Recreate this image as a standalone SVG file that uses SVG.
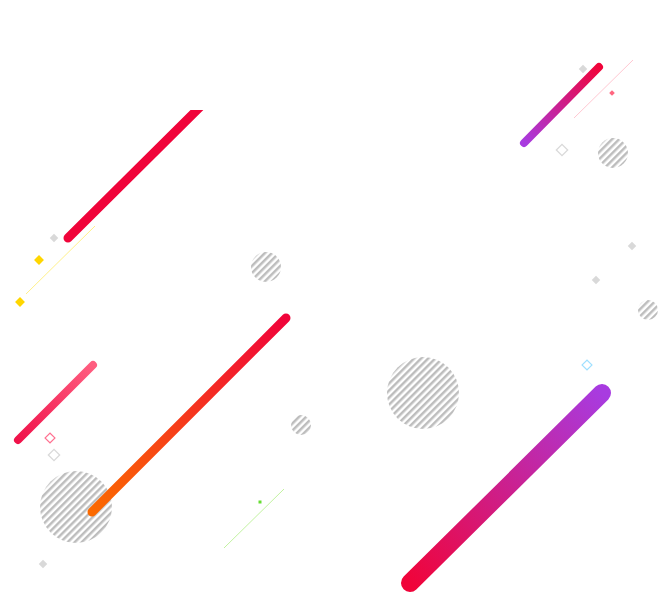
<svg xmlns="http://www.w3.org/2000/svg" width="658" height="607" viewBox="0 0 658 607">
<defs>
<pattern id="stripes" patternUnits="userSpaceOnUse" width="5" height="10" patternTransform="rotate(45)">
<rect x="0" y="0" width="2.5" height="10" fill="#bdbdbd"/>
</pattern>
<linearGradient id="gBig" gradientUnits="userSpaceOnUse" x1="410" y1="583" x2="602" y2="393">
<stop offset="0" stop-color="#f0043a"/><stop offset="1" stop-color="#a83be0"/>
</linearGradient>
<linearGradient id="gTR" gradientUnits="userSpaceOnUse" x1="524" y1="143" x2="599" y2="67">
<stop offset="0" stop-color="#a83be0"/><stop offset="1" stop-color="#f0043a"/>
</linearGradient>
<linearGradient id="gMid" gradientUnits="userSpaceOnUse" x1="92" y1="512" x2="286" y2="318">
<stop offset="0" stop-color="#fb6a00"/><stop offset="1" stop-color="#f0043a"/>
</linearGradient>
<linearGradient id="gPink" gradientUnits="userSpaceOnUse" x1="18" y1="440" x2="93" y2="365">
<stop offset="0" stop-color="#f0124a"/><stop offset="1" stop-color="#ff5e80"/>
</linearGradient>
<clipPath id="clipTop"><rect x="0" y="110" width="658" height="497"/></clipPath>
<style>
.bar{fill:none;stroke-linecap:round}
.circ{fill:url(#stripes)}
.dg{fill:#d9d9d9}
</style>
</defs>
<rect width="658" height="607" fill="#ffffff"/>
<g id="circles">
<circle class="circ" cx="266" cy="267" r="15"/>
<circle class="circ" cx="301" cy="425" r="10"/>
<circle class="circ" cx="423" cy="393" r="36"/>
<circle class="circ" cx="76" cy="507" r="36"/>
<circle class="circ" cx="648" cy="310" r="10"/>
<circle class="circ" cx="613" cy="153" r="15"/>
</g>
<g id="thin-lines">
<line x1="26" y1="294" x2="95" y2="226" stroke="#fff08a" stroke-width="1"/>
<line x1="574" y1="118" x2="633" y2="60" stroke="#ffc8d2" stroke-width="1"/>
<line x1="224" y1="548" x2="284" y2="489" stroke="#c2f2a0" stroke-width="1"/>
</g>
<g id="bars">
<line class="bar" clip-path="url(#clipTop)" x1="68" y1="238" x2="206" y2="101" stroke="#f0043a" stroke-width="9"/>
<line class="bar" x1="524" y1="143" x2="599" y2="67" stroke="url(#gTR)" stroke-width="8"/>
<line class="bar" x1="18" y1="440" x2="93" y2="365" stroke="url(#gPink)" stroke-width="8"/>
<line class="bar" x1="92" y1="512" x2="286" y2="318" stroke="url(#gMid)" stroke-width="9"/>
<line class="bar" x1="410" y1="583" x2="602" y2="393" stroke="url(#gBig)" stroke-width="18"/>
</g>
<g id="diamonds">
<rect class="dg" x="51" y="235" width="6" height="6" transform="rotate(45 54 238)"/>
<rect fill="#ffd600" x="35.5" y="256.5" width="7" height="7" transform="rotate(45 39 260)"/>
<rect fill="#ffd600" x="16.5" y="298.5" width="7" height="7" transform="rotate(45 20 302)"/>
<rect class="dg" x="580" y="66" width="6" height="6" transform="rotate(45 583 69)"/>
<rect fill="#ff6680" x="610" y="91" width="4" height="4" transform="rotate(45 612 93)"/>
<rect fill="none" stroke="#d9d9d9" stroke-width="1.3" x="558" y="146" width="8" height="8" transform="rotate(45 562 150)"/>
<rect class="dg" x="629" y="243" width="6" height="6" transform="rotate(45 632 246)"/>
<rect class="dg" x="593" y="277" width="6" height="6" transform="rotate(45 596 280)"/>
<rect fill="none" stroke="#a0e0ff" stroke-width="1.2" x="583.5" y="361.5" width="7" height="7" transform="rotate(45 587 365)"/>
<rect fill="none" stroke="#ff7090" stroke-width="1.2" x="46.5" y="434.5" width="7" height="7" transform="rotate(45 50 438)"/>
<rect fill="none" stroke="#d9d9d9" stroke-width="1.3" x="50" y="451" width="8" height="8" transform="rotate(45 54 455)"/>
<rect class="dg" x="40" y="561" width="6" height="6" transform="rotate(45 43 564)"/>
<rect fill="#66dd33" x="258.5" y="500.5" width="3" height="3"/>
</g>
</svg>
